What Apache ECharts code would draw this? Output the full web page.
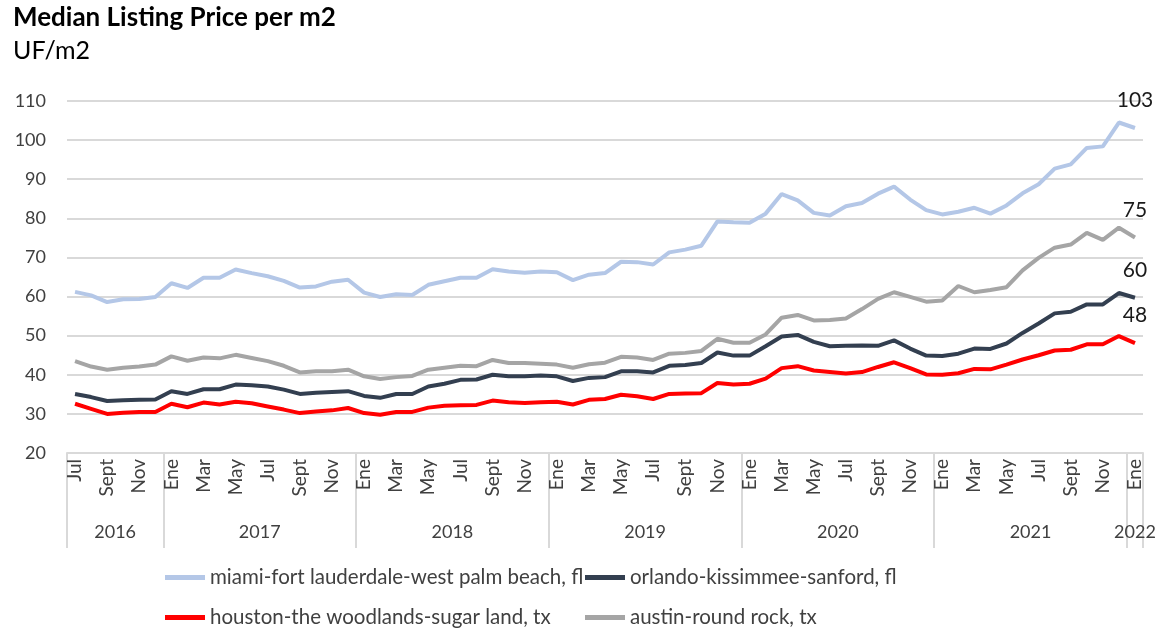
<!DOCTYPE html>
<html>
<head>
<meta charset="utf-8">
<script src="https://cdn.jsdelivr.net/npm/echarts@6/dist/echarts.min.js"></script>
<style>html,body{margin:0;padding:0;background:#fff;}#c{width:1172px;height:632px;}</style>
</head>
<body>
<div id="c"></div>
<script>
const monthNames = ['Ene','Feb','Mar','Abr','May','Jun','Jul','Ago','Sept','Oct','Nov','Dic'];
const startYear = 2016, startMonth = 6, nPoints = 67;
const yTicks = {min: 20, max: 110, interval: 10};

const miami = [61.2,60.3,58.6,59.3,59.4,59.9,63.4,62.2,64.8,64.8,
  66.9,66.0,65.2,64.0,62.3,62.6,63.8,64.3,61.0,59.9,
  60.6,60.4,63.0,63.9,64.8,64.8,67.0,66.4,66.1,66.4,
  66.2,64.2,65.6,66.0,68.9,68.8,68.2,71.3,72.0,73.0,
  79.2,79.0,78.9,81.2,86.2,84.6,81.4,80.7,83.1,83.9,
  86.3,88.1,84.8,82.1,81.0,81.7,82.7,81.2,83.3,86.4,
  88.7,92.7,93.8,98.0,98.4,104.5,103.1];
const orlando = [35.1,34.3,33.3,33.5,33.6,33.7,35.8,35.1,36.3,36.3,
  37.5,37.3,37.0,36.2,35.1,35.4,35.6,35.8,34.6,34.1,
  35.1,35.1,37.0,37.7,38.7,38.8,40.0,39.6,39.6,39.8,
  39.6,38.4,39.2,39.4,40.9,40.9,40.6,42.3,42.5,43.0,
  45.7,44.9,44.9,47.3,49.8,50.2,48.4,47.3,47.4,47.5,
  47.4,48.8,46.7,44.9,44.8,45.4,46.7,46.6,48.0,50.7,
  53.1,55.7,56.1,58.0,58.0,60.9,59.7];
const houston = [32.6,31.3,30.0,30.3,30.5,30.5,32.6,31.7,32.9,32.4,
  33.1,32.7,31.9,31.1,30.2,30.6,30.9,31.5,30.2,29.8,
  30.5,30.5,31.6,32.1,32.2,32.3,33.4,33.0,32.8,33.0,
  33.1,32.4,33.6,33.8,34.9,34.5,33.8,35.1,35.2,35.3,
  37.9,37.5,37.7,39.0,41.7,42.2,41.1,40.7,40.3,40.7,
  42.0,43.2,41.7,40.1,40.0,40.4,41.5,41.4,42.6,43.9,
  45.0,46.2,46.4,47.8,47.8,49.9,48.1];
const austin = [43.5,42.1,41.3,41.8,42.1,42.6,44.7,43.6,44.4,44.2,
  45.1,44.3,43.5,42.3,40.6,40.9,40.9,41.3,39.6,38.9,
  39.4,39.7,41.3,41.8,42.3,42.2,43.8,43.0,43.0,42.8,
  42.6,41.8,42.7,43.1,44.6,44.4,43.8,45.4,45.6,46.1,
  49.2,48.2,48.2,50.3,54.6,55.3,53.9,54.0,54.4,56.8,
  59.4,61.1,59.9,58.7,59.0,62.7,61.1,61.7,62.4,66.7,
  69.9,72.5,73.3,76.3,74.5,77.6,75.1];

const seriesNames = ['miami-fort lauderdale-west palm beach, fl','orlando-kissimmee-sanford, fl','houston-the woodlands-sugar land, tx','austin-round rock, tx'];
const seriesColors = ['#b4c7e7','#333f50','#ff0000','#a5a5a5'];
const seriesData = [miami, orlando, houston, austin];

// categories
const months = [], years = [];
for (let i = 0; i < nPoints; i++) {
  const m = (startMonth + i) % 12;
  const y = startYear + Math.floor((startMonth + i) / 12);
  months.push(monthNames[m]);
  years.push(String(y));
}
// year groups
const groups = [];
years.forEach((y, i) => {
  if (!groups.length || groups[groups.length - 1].y !== y) groups.push({y, start: i, len: 0});
  groups[groups.length - 1].len++;
});
const yearStarts = new Set(groups.map(g => g.start));
const yearLabelIdx = {};
groups.forEach(g => {
  if (g.len % 2 === 0) yearLabelIdx[g.start + g.len / 2 - 1] = 's';
  else yearLabelIdx[g.start + (g.len - 1) / 2] = 'n';
});

const FONT = 'Lato';
const txt = '#404040';
const last = nPoints - 1;

const chart = echarts.init(document.getElementById('c'), null, {renderer: 'canvas'});
chart.setOption({
  animation: false,
  backgroundColor: '#fff',
  textStyle: {fontFamily: FONT},
  title: [
    {text: 'Median Listing Price per m2', left: 13, top: 5, padding: 0, textStyle: {fontFamily: FONT, fontSize: 26, fontWeight: 'bold', color: '#000'}},
    {text: 'UF/m2', left: 13, top: 38, padding: 0, textStyle: {fontFamily: FONT, fontSize: 25, fontWeight: 'normal', color: '#000'}}
  ],
  legend: [
    {data: [seriesNames[0], seriesNames[2]], orient: 'vertical', left: 165, top: 567, itemGap: 19, padding: 0,
     itemWidth: 40, itemHeight: 5, icon: 'rect', textStyle: {fontFamily: FONT, fontSize: 20.5, color: txt}},
    {data: [seriesNames[1], seriesNames[3]], orient: 'vertical', left: 585, top: 567, itemGap: 19, padding: 0,
     itemWidth: 40, itemHeight: 5, icon: 'rect', textStyle: {fontFamily: FONT, fontSize: 20.5, color: txt}}
  ],
  grid: {left: 67, right: 29, top: 101, bottom: 179},
  xAxis: [
    {type: 'category', data: months, position: 'bottom', boundaryGap: true,
     axisLine: {show: true, lineStyle: {color: '#d9d9d9', width: 2}},
     axisTick: {show: false},
     axisLabel: {interval: 1, rotate: 90, margin: 6, fontFamily: FONT, fontSize: 19, color: txt}},
    {type: 'category', data: years, position: 'bottom', boundaryGap: true,
     axisLine: {show: false},
     axisTick: {show: true, length: 95, interval: (i) => yearStarts.has(i), lineStyle: {color: '#d9d9d9', width: 2}},
     axisLabel: {interval: (i) => yearLabelIdx[i] !== undefined, margin: 70,
       formatter: (v, i) => yearLabelIdx[i] === 's' ? '{s|' + v + '}' : '{n|' + v + '}',
       rich: {s: {padding: [0, 0, 0, 16], fontFamily: FONT, fontSize: 18, color: txt},
              n: {fontFamily: FONT, fontSize: 18, color: txt}},
       fontFamily: FONT, fontSize: 18, color: txt}}
  ],
  yAxis: {type: 'value', min: yTicks.min, max: yTicks.max, interval: yTicks.interval,
    axisLine: {show: false}, axisTick: {show: false},
    splitLine: {lineStyle: {color: '#d9d9d9', width: 2}},
    axisLabel: {margin: 21, fontFamily: FONT, fontSize: 18, color: txt}},
  series: seriesData.map((d, k) => ({
    name: seriesNames[k], type: 'line', data: d, xAxisIndex: 0,
    symbol: 'circle', symbolSize: 0, showSymbol: true,
    lineStyle: {color: seriesColors[k], width: 4}, itemStyle: {color: seriesColors[k]},
    label: {show: true, position: 'top', distance: 17, fontFamily: FONT, fontSize: 21, color: '#1a1a1a',
      formatter: p => p.dataIndex === last ? String(Math.round(p.value)) : ''},
    emphasis: {disabled: true}
  }))
});
</script>
</body>
</html>
